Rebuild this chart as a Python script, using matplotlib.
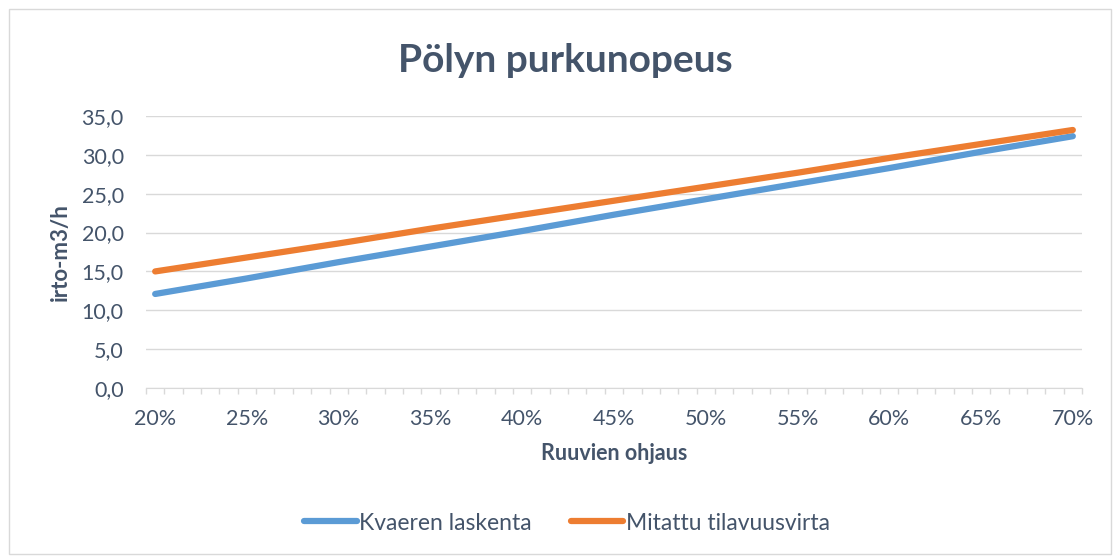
import numpy as np
import matplotlib.pyplot as plt
from matplotlib.patches import Rectangle
from matplotlib.ticker import FixedLocator, FuncFormatter

plt.rcParams['font.family'] = ['Lato', 'DejaVu Sans']

# category axis: 20% .. 70% in 1% steps
categories = list(range(20, 71))
# values read at every 5 %
points = [20, 25, 30, 35, 40, 45, 50, 55, 60, 65, 70]
kvaeren = [12.1, 14.1, 16.2, 18.2, 20.2, 22.3, 24.3, 26.3, 28.3, 30.4, 32.4]
mitattu = [15.0, 16.8, 18.6, 20.5, 22.3, 24.1, 25.9, 27.7, 29.6, 31.4, 33.2]
yticks = [0, 5, 10, 15, 20, 25, 30, 35]

txt = '#44546A'
grid = '#D9D9D9'

fig = plt.figure(figsize=(11.2, 5.57), dpi=100)
fig.patches.append(Rectangle((0.008, 0.005), 0.984, 0.978, transform=fig.transFigure,
                             fill=False, edgecolor=grid, linewidth=1))
ax = fig.add_axes([146/1120, 1-388/557, (1082-146)/1120, (388-116)/557])

xpos = [categories.index(p) for p in points]
ax.plot(xpos, kvaeren, color='#5B9BD5', lw=4.5, solid_capstyle='round', label='Kvaeren laskenta')
ax.plot(xpos, mitattu, color='#ED7D31', lw=4.5, solid_capstyle='round', label='Mitattu tilavuusvirta')

ax.set_xlim(-0.5, len(categories) - 0.5)
ax.set_ylim(0, 35)
ax.set_yticks(yticks)
ax.yaxis.set_major_formatter(FuncFormatter(lambda v, p: f'{v:.1f}'.replace('.', ',')))
ax.xaxis.set_major_locator(FixedLocator(xpos))
ax.set_xticklabels([f'{p}%' for p in points])
ax.xaxis.set_minor_locator(FixedLocator(np.arange(-0.5, len(categories), 1)))
ax.tick_params(axis='x', which='major', length=0, pad=15, labelsize=15.5, labelcolor=txt)
ax.tick_params(axis='x', which='minor', length=4, width=1, color=grid, direction='out')
ax.tick_params(axis='y', length=0, pad=16, labelsize=15.5, labelcolor=txt)

ax.grid(axis='y', color=grid, lw=1)
ax.set_axisbelow(True)
for s in ['top', 'right', 'left']:
    ax.spines[s].set_visible(False)
ax.spines['bottom'].set_color(grid)

ax.set_xlabel('Ruuvien ohjaus', fontsize=15.5, fontweight='bold', color=txt, labelpad=10)
ax.set_ylabel('irto-m3/h', fontsize=16, fontweight='bold', color=txt, labelpad=8)
fig.text(0.505, 1-60/557, 'Pölyn purkunopeus', ha='center', va='center',
         fontsize=28, fontweight='bold', color=txt)

fig.legend(loc='center', bbox_to_anchor=(0.506, 1-523/557), ncol=2, frameon=False,
           fontsize=16.5, handlelength=2.3, handletextpad=0.1, columnspacing=1.7,
           labelcolor=txt)

fig.savefig('out.png', dpi=100)
